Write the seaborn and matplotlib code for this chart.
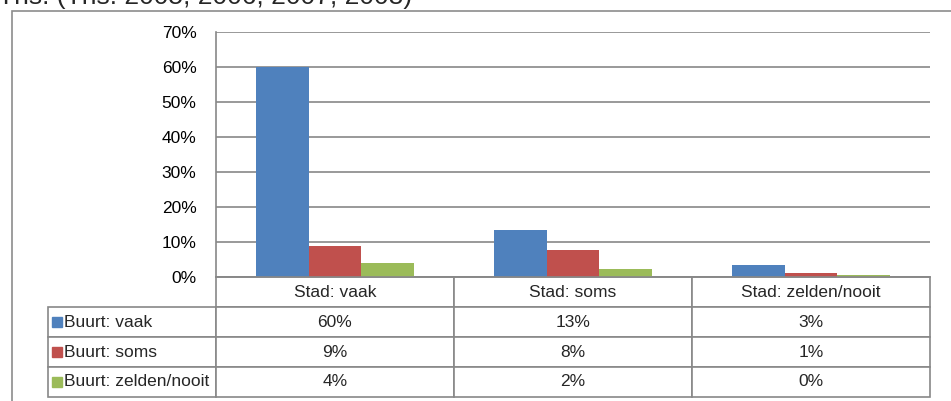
import pandas as pd
import matplotlib.pyplot as plt
import seaborn as sns
from matplotlib.patches import Rectangle
from matplotlib.ticker import PercentFormatter

# data
stad = ['Stad: vaak', 'Stad: soms', 'Stad: zelden/nooit']
buurt = ['Buurt: vaak', 'Buurt: soms', 'Buurt: zelden/nooit']
buurt_vaak = [0.600, 0.134, 0.034]
buurt_soms = [0.089, 0.077, 0.012]
buurt_zelden = [0.040, 0.022, 0.0049]
colors = ['#4F81BD', '#C0504D', '#9BBB59']
title = 'Ths. (Ths. 2005, 2006, 2007, 2008)'

GRID = '#888888'

df = pd.DataFrame({
    'stad': stad * 3,
    'buurt': [b for b in buurt for _ in stad],
    'aandeel': buurt_vaak + buurt_soms + buurt_zelden,
})

sns.set_style('white')
plt.rcParams['font.family'] = ['Liberation Sans', 'DejaVu Sans']

W, H = 951, 401
fig = plt.figure(figsize=(W / 100, H / 100), dpi=100)
ax = fig.add_axes([216 / W, 1 - 277 / H, 714 / W, 245 / H])

sns.barplot(data=df, x='stad', y='aandeel', hue='buurt', order=stad, hue_order=buurt,
            palette=colors, saturation=1, width=0.668, gap=0, legend=False, ax=ax,
            linewidth=0)

ax.set_ylim(0, 0.70)
ax.set_yticks([i / 10 for i in range(8)])
ax.yaxis.set_major_formatter(PercentFormatter(1.0, decimals=0))
ax.tick_params(axis='y', length=0, pad=14, labelsize=12.5, labelcolor='black')
ax.tick_params(axis='x', length=0, labelbottom=False)
ax.set_xlabel('')
ax.set_ylabel('')
ax.grid(axis='y', color=GRID, linewidth=1.2)
ax.set_axisbelow(True)
for side in ['top', 'right']:
    ax.spines[side].set_visible(False)
for side in ['left', 'bottom']:
    ax.spines[side].set_color(GRID)
    ax.spines[side].set_linewidth(1.2)

# data table under the chart
series = [buurt_vaak, buurt_soms, buurt_zelden]
cells = [[''] + stad]
for name, vals in zip(buurt, series):
    cells.append([name] + [f'{round(v * 100):.0f}%' for v in vals])

left = (48 - 216) / 714
tab_h = 120 / 245
tab = ax.table(cellText=cells, cellLoc='center',
               colWidths=[168, 238, 238, 238],
               bbox=[left, -tab_h, 1 - left, tab_h])
tab.auto_set_font_size(False)
for (r, c), cell in tab.get_celld().items():
    cell.set_edgecolor(GRID)
    cell.set_linewidth(1.2)
    cell.get_text().set_fontsize(12.5)
    if c == 0:
        cell.get_text().set_horizontalalignment('left')
        cell._loc = 'left'
        cell.PAD = 0.095
tab[0, 0].visible_edges = 'open'

# colour keys in the row label cells
row_h = tab_h / 4
for i, col in enumerate(colors):
    yc = -(i + 1.5) * row_h
    ax.add_patch(Rectangle(((52 - 216) / 714, yc - 5 / 245), 10 / 714, 10 / 245,
                           transform=ax.transAxes, color=col, clip_on=False))

# outer chart frame and the title line from the page, cut off as in the source
fig.add_artist(Rectangle((12 / W, -0.1), 1.2, 1.1 - 11 / H, transform=fig.transFigure,
                         fill=False, edgecolor='#8c8c8c', linewidth=1.2))
fig.text(-2 / W, 1 - 4 / H, title, fontsize=19, va='baseline', ha='left')

fig.savefig('out.png', dpi=100)
